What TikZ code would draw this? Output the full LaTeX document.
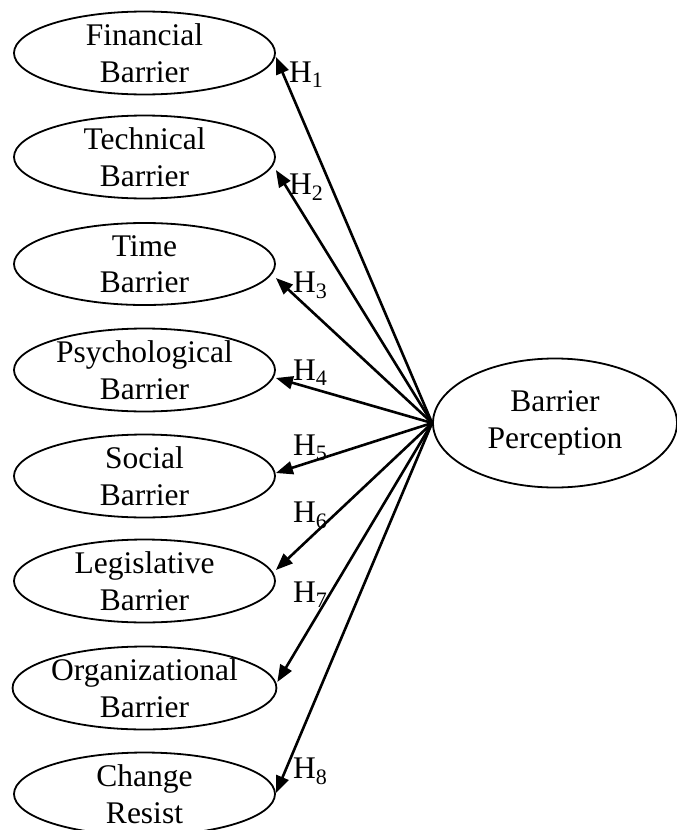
\documentclass[tikz,border=0pt]{standalone}
\usepackage{fontspec}
\setmainfont{Liberation Serif}
\usetikzlibrary{shapes.geometric,arrows.meta}
\begin{document}
\begin{tikzpicture}[x=1pt,y=-1pt,
  txt/.style={font=\fontsize{31.5}{36.5}\selectfont},
  factor/.style={txt, draw, ellipse, line width=1.8pt, minimum width=261pt,
    minimum height=82pt, inner sep=0pt, align=center},
  outcome/.style={txt, draw, ellipse, line width=1.8pt, minimum width=244pt,
    minimum height=129pt, inner sep=0pt, align=center},
  hyp/.style={-{Triangle[length=17pt,width=13pt]}, line width=2.6pt},
  hlabel/.style={txt, anchor=base west, inner sep=0pt}]
\useasboundingbox (0,0) rectangle (677,830);
\clip (0,0) rectangle (677,830);

% barrier constructs
\node[factor] (fin)  at (144.5,53)  {Financial\\Barrier};
\node[factor] (tech) at (144.5,157) {Technical\\Barrier};
\node[factor] (time) at (144.5,264) {Time\\Barrier};
\node[factor] (psy)  at (144.5,370) {Psychological\\Barrier};
\node[factor] (soc)  at (144.5,476) {Social\\Barrier};
\node[factor] (leg)  at (144.5,581) {Legislative\\Barrier};
\node[factor] (org)  at (144.5,688) {Organizational\\Barrier};
\node[factor] (chg)  at (144.5,794) {Change\\Resist};

% overall construct
\node[outcome] (bp) at (555,423) {Barrier\\Perception};

% hypothesised paths
\draw[hyp] (bp.west) -- ([yshift=-4pt]fin.east);
\draw[hyp] (bp.west) -- ([yshift=-13pt]tech.east);
\draw[hyp] (bp.west) -- ([yshift=-14pt]time.east);
\draw[hyp] (bp.west) -- ([yshift=-8pt]psy.east);
\draw[hyp] (bp.west) -- ([yshift=3pt]soc.east);
\draw[hyp] (bp.west) -- ([yshift=11pt]leg.east);
\draw[hyp] (bp.west) -- ([yshift=6pt]org.east);
\draw[hyp] (bp.west) -- ([yshift=1pt]chg.east);

% hypothesis labels
\node[hlabel] (h1) at (289,82)  {H\textsubscript{1}};
\node[hlabel] (h2) at (289,194) {H\textsubscript{2}};
\node[hlabel] (h3) at (293,292) {H\textsubscript{3}};
\node[hlabel] (h4) at (293,380) {H\textsubscript{4}};
\node[hlabel] (h5) at (293,455) {H\textsubscript{5}};
\node[hlabel] (h6) at (293,522) {H\textsubscript{6}};
\node[hlabel] (h7) at (293,602) {H\textsubscript{7}};
\node[hlabel] (h8) at (293,778) {H\textsubscript{8}};
\end{tikzpicture}
\end{document}
